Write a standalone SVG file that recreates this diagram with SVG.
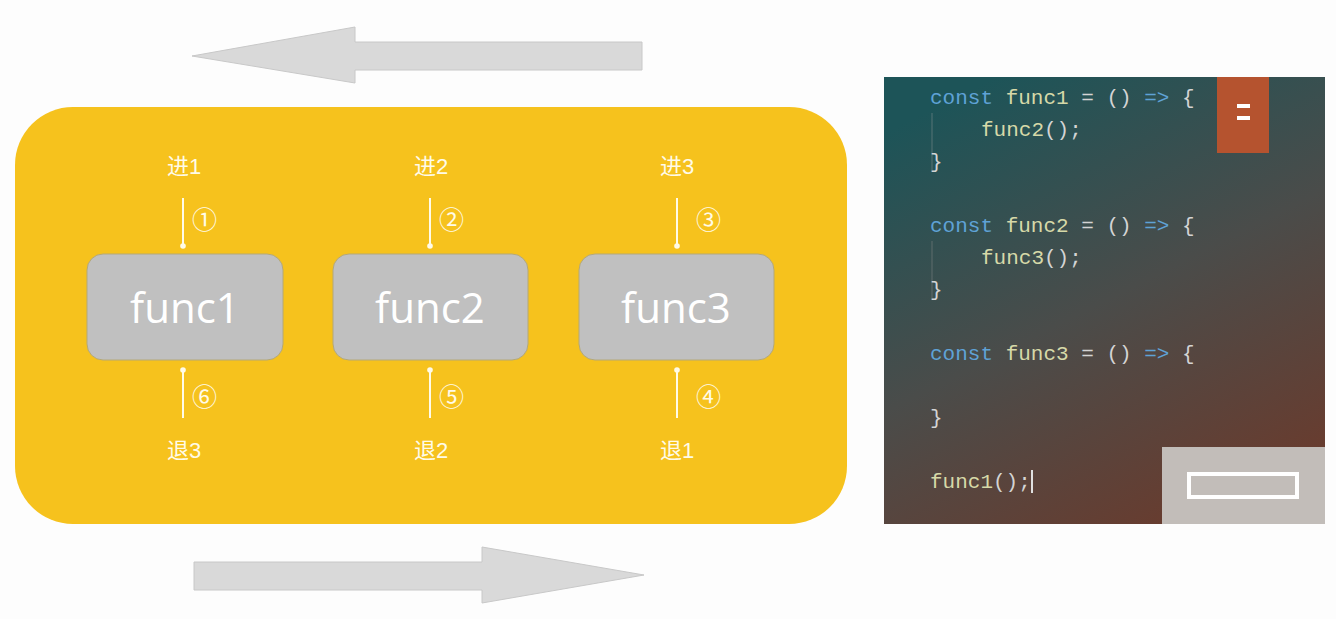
<svg xmlns="http://www.w3.org/2000/svg" width="1336" height="619" viewBox="0 0 1336 619">
<style>
.bigarrow{fill:#d9d9d9;stroke:#c8c8c8;stroke-width:1}
.node rect{fill:#c0c0c0;stroke:#b4a878;stroke-width:1}
.node text{font-family:"Comic Sans MS","Open Sans","DejaVu Sans",sans-serif;font-size:42px;fill:#ffffff;text-anchor:middle}
.lbl{font-family:"Liberation Sans","Noto Sans CJK SC",sans-serif;font-size:22px;fill:#fffbe8;text-anchor:middle}
.num{font-family:"Noto Sans CJK SC",sans-serif;font-size:25px;fill:#fffbe8}
.conn line{stroke:#fffbe8;stroke-width:2}
.conn circle{fill:#fffbe8}
.code{font-family:"Liberation Mono",monospace;font-size:21px;fill:#d4d4d4}
.kw{fill:#5fa2d6}
.fn{fill:#d6d9a8}
</style>
<defs>
<linearGradient id="panel" x1="0.25" y1="0" x2="0.75" y2="1">
<stop offset="0" stop-color="#1d5458"/>
<stop offset="0.5" stop-color="#4a4c4a"/>
<stop offset="1" stop-color="#6a3b2d"/>
</linearGradient>
</defs>
<rect width="1336" height="619" fill="#fdfdfd"/>
<polygon class="bigarrow" points="192,56 355,27 355,42 642,42 642,70 355,70 355,83"/>
<polygon class="bigarrow" points="644,575 482,547 482,562 194,562 194,590 482,590 482,603"/>
<rect x="15" y="107" width="832" height="417" rx="58" fill="#f6c21d"/>
<g id="func1" class="node"><rect x="87" y="254" width="196" height="106" rx="16"/><text x="185" y="323">func1</text></g>
<g id="func2" class="node"><rect x="333" y="254" width="195" height="106" rx="16"/><text x="430" y="323">func2</text></g>
<g id="func3" class="node"><rect x="579" y="254" width="195" height="106" rx="16"/><text x="676" y="323">func3</text></g>
<g id="connectors" class="conn">
<line x1="183" y1="198" x2="183" y2="245"/><circle cx="183" cy="246" r="2.8"/>
<line x1="430" y1="198" x2="430" y2="245"/><circle cx="430" cy="246" r="2.8"/>
<line x1="677" y1="198" x2="677" y2="245"/><circle cx="677" cy="246" r="2.8"/>
<line x1="183" y1="371" x2="183" y2="418"/><circle cx="183" cy="370" r="2.8"/>
<line x1="430" y1="371" x2="430" y2="418"/><circle cx="430" cy="370" r="2.8"/>
<line x1="677" y1="371" x2="677" y2="418"/><circle cx="677" cy="370" r="2.8"/>
</g>
<g id="labels">
<text class="lbl" x="184" y="174">进1</text>
<text class="lbl" x="431" y="174">进2</text>
<text class="lbl" x="677" y="174">进3</text>
<text class="lbl" x="184" y="458">退3</text>
<text class="lbl" x="431" y="458">退2</text>
<text class="lbl" x="677" y="458">退1</text>
<text class="num" x="192" y="229">①</text>
<text class="num" x="439" y="229">②</text>
<text class="num" x="696" y="229">③</text>
<text class="num" x="192" y="406">⑥</text>
<text class="num" x="439" y="406">⑤</text>
<text class="num" x="696" y="406">④</text>
</g>
<g id="code-panel">
<rect x="884" y="77" width="441" height="447" fill="url(#panel)"/>
<line x1="932" y1="113" x2="932" y2="172" stroke="#7a8a8a" stroke-width="1" opacity="0.6"/>
<line x1="932" y1="241" x2="932" y2="300" stroke="#7a8080" stroke-width="1" opacity="0.6"/>
<text class="code" x="930" y="104"><tspan class="kw">const</tspan> <tspan class="fn">func1</tspan> = () <tspan class="kw">=&gt;</tspan> {</text>
<text class="code" x="981" y="136"><tspan class="fn">func2</tspan>();</text>
<text class="code" x="930" y="168">}</text>
<text class="code" x="930" y="232"><tspan class="kw">const</tspan> <tspan class="fn">func2</tspan> = () <tspan class="kw">=&gt;</tspan> {</text>
<text class="code" x="981" y="264"><tspan class="fn">func3</tspan>();</text>
<text class="code" x="930" y="296">}</text>
<text class="code" x="930" y="360"><tspan class="kw">const</tspan> <tspan class="fn">func3</tspan> = () <tspan class="kw">=&gt;</tspan> {</text>
<text class="code" x="930" y="424">}</text>
<text class="code" x="930" y="488"><tspan class="fn">func1</tspan>();</text>
<line x1="1032" y1="470" x2="1032" y2="493" stroke="#e0e0e0" stroke-width="2"/>
<rect x="1217" y="77" width="52" height="76" fill="#b5532f"/>
<rect x="1237" y="104" width="13" height="4" fill="#ffffff"/>
<rect x="1237" y="116" width="13" height="4" fill="#ffffff"/>
<rect x="1162" y="447" width="163" height="77" fill="#c2bdb9"/>
<rect x="1189" y="474" width="108" height="23" fill="none" stroke="#ffffff" stroke-width="4"/>
</g>
</svg>
